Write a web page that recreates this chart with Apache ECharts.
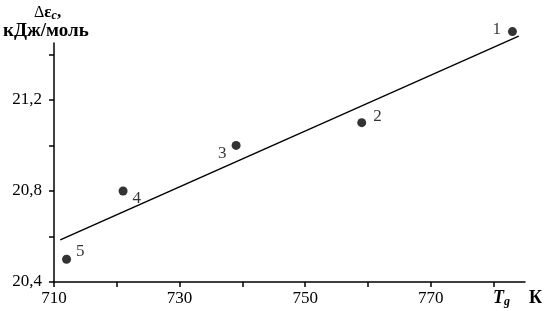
<!DOCTYPE html>
<html><head><meta charset="utf-8">
<script src="https://cdn.jsdelivr.net/npm/echarts@6/dist/echarts.min.js"></script>
<style>html,body{margin:0;padding:0;background:#fff}#c{width:552px;height:311px}</style>
</head><body><div id="c"></div>
<script>
const pointNames = ['1', '2', '3', '4', '5'];
const tempK = [783, 759, 739, 721, 712];
const energy = [21.5, 21.1, 21.0, 20.8, 20.5];
const fitX = [711, 784];
const fitY = [20.585, 21.48];
const xTickLabels = [710, 730, 750, 770];
const yTickLabels = [20.4, 20.8, 21.2];
const labelPos = ['left', 'right', 'left', 'right', 'right'];
const labelOffset = [[-2, -2], [2, -6], [0, 8], [0, 8], [0, -8]];

const font = '"Liberation Serif", "DejaVu Serif", serif';
const chart = echarts.init(document.getElementById('c'));
chart.setOption({
  animation: false,
  backgroundColor: '#fff',
  grid: { left: 54, right: 27, top: 43, bottom: 29 },
  xAxis: {
    type: 'value', min: 710, max: 785, interval: 10,
    axisLine: { show: true, lineStyle: { color: '#000', width: 1.5 } },
    axisTick: { show: true, inside: false, length: 5, lineStyle: { color: '#000', width: 1.5 } },
    splitLine: { show: false },
    axisLabel: {
      showMaxLabel: false, color: '#000', fontFamily: font, fontSize: 17, margin: 8,
      formatter: v => xTickLabels.some(t => Math.abs(t - v) < 1e-6) ? String(v) : ''
    }
  },
  yAxis: {
    type: 'value', min: 20.4, max: 21.45, interval: 0.2,
    axisLine: { show: true, lineStyle: { color: '#000', width: 1.5 } },
    axisTick: { show: true, inside: false, length: 5, lineStyle: { color: '#000', width: 1.5 } },
    splitLine: { show: false },
    axisLabel: {
      showMaxLabel: false, color: '#000', fontFamily: font, fontSize: 17, margin: 12,
      formatter: v => yTickLabels.some(t => Math.abs(t - v) < 1e-6) ? v.toFixed(1).replace('.', ',') : ''
    }
  },
  series: [
    {
      type: 'line',
      data: fitX.map((x, i) => [x, fitY[i]]),
      symbol: 'none',
      lineStyle: { color: '#000', width: 1.5 },
      clip: false
    },
    {
      type: 'scatter',
      clip: false,
      symbolSize: 9,
      itemStyle: { color: '#000' },
      data: tempK.map((x, i) => ({
        value: [x, energy[i]],
        label: {
          show: true, formatter: pointNames[i], position: labelPos[i],
          offset: labelOffset[i], color: '#000', fontFamily: font, fontSize: 17
        }
      }))
    }
  ],
  graphic: [
    {
      type: 'text', left: 34, top: 4,
      style: {
        text: '{d|Δ}{e|ε}{s|c}{e|,}', fontFamily: font,
        rich: {
          d: { fontSize: 16, fontFamily: font, fill: '#000' },
          e: { fontSize: 17, fontWeight: 'bold', fontFamily: font, fill: '#000' },
          s: { fontSize: 12, fontWeight: 'bold', fontStyle: 'italic', fontFamily: font, fill: '#000', padding: [7, 0, 0, 0] }
        }
      }
    },
    {
      type: 'text', left: 3, top: 22,
      style: { text: 'кДж/моль', fontFamily: font, fontSize: 19, fontWeight: 'bold', fill: '#000' }
    },
    {
      type: 'text', left: 493, top: 289,
      style: {
        text: '{t|T}{g|g}', fontFamily: font,
        rich: {
          t: { fontSize: 18, fontWeight: 'bold', fontStyle: 'italic', fontFamily: font, fill: '#000' },
          g: { fontSize: 12, fontWeight: 'bold', fontStyle: 'italic', fontFamily: font, fill: '#000', padding: [7, 0, 0, 0] }
        }
      }
    },
    {
      type: 'text', left: 529, top: 289,
      style: { text: 'К', fontFamily: font, fontSize: 18, fontWeight: 'bold', fill: '#000' }
    }
  ]
});
</script></body></html>
